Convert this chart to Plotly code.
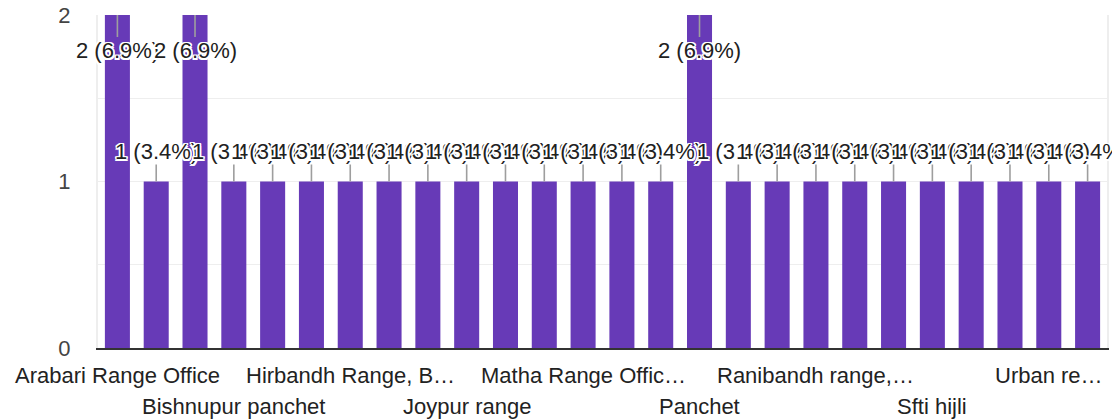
import plotly.graph_objects as go

# ---- data ----
categories = [
    "Arabari Range Office", "Bankura range", "Barjora range", "Bishnupur panchet",
    "Bishnupur range", "Durgapur range", "Hirbandh Range, Bankura", "Jhargram range",
    "Jhilimili range", "Joypur range", "Khatra range", "Kotulpur range",
    "Matha Range Office", "Medinipur range", "Onda range", "Panchet",
    "Patrasayer range", "Purulia range", "Ranibandh range, Bankura", "Saltora range",
    "Sarenga range", "Sfti hijli", "Simlapal range", "Sonamukhi range",
    "Urban range", "Vishnupur",
]
counts = [2, 1, 2, 1, 1, 1, 1, 1, 1, 1, 1, 1, 1, 1, 1, 2,
          1, 1, 1, 1, 1, 1, 1, 1, 1, 1]
tick_labels = ["Arabari Range Office", "Bishnupur panchet", "Hirbandh Range, B…",
               "Joypur range", "Matha Range Offic…", "Panchet", "Ranibandh range,…",
               "Sfti hijli", "Urban re…"]
tick_every = 3
y_tickvals = [0, 0.5, 1, 1.5, 2]
y_ticktext = ["0", "", "1", "", "2"]

total = sum(counts)
ymax = max(counts)

FONT = "Liberation Sans, Arial, sans-serif"
BAR = "#673AB7"
halo = ("1.5px 1.5px 0 #fff, -1.5px -1.5px 0 #fff, 1.5px -1.5px 0 #fff, -1.5px 1.5px 0 #fff, "
        "0 1.5px 0 #fff, 0 -1.5px 0 #fff, 1.5px 0 0 #fff, -1.5px 0 0 #fff")

fig = go.Figure()
fig.add_trace(go.Bar(
    x=categories, y=counts, marker=dict(color=BAR, line=dict(width=0)),
    hovertemplate="%{x}: %{y}<extra></extra>",
))

annotations = []
for cat, c in zip(categories, counts):
    pct = c / total * 100
    inside = c >= ymax
    annotations.append(dict(
        x=cat, y=c, xref="x", yref="y",
        text=f"{c} ({pct:.1f}%)",
        showarrow=True, arrowhead=0, arrowwidth=1.6, arrowcolor="#9e9e9e",
        ax=0, ay=35 if inside else -30,
        font=dict(family=FONT, size=22, color="#212121", shadow=halo),
        borderpad=0,
    ))

for i, lab in enumerate(tick_labels):
    idx = i * tick_every
    row = i % 2
    annotations.append(dict(
        x=categories[idx], y=0, xref="x", yref="paper",
        text=lab, showarrow=False, xanchor="center", yanchor="middle",
        yshift=-27 if row == 0 else -58,
        font=dict(family=FONT, size=22, color="#222222"),
    ))

fig.update_layout(
    width=1112, height=420,
    margin=dict(l=98, r=5, t=15, b=72, autoexpand=False),
    plot_bgcolor="white", paper_bgcolor="white",
    bargap=0.355, showlegend=False,
    font=dict(family=FONT, size=22, color="#444444"),
    annotations=annotations,
    xaxis=dict(
        type="category", showticklabels=False, showgrid=False, zeroline=False,
        showline=True, linecolor="#333333", linewidth=2,
        range=[-0.5, len(categories) - 0.5], fixedrange=True,
    ),
    yaxis=dict(
        range=[0, ymax], tickvals=y_tickvals, ticktext=y_ticktext,
        showgrid=True, gridcolor="#eeeeee", gridwidth=1.3, zeroline=False,
        showline=True, linecolor="#eeeeee", linewidth=2, mirror=True,
        tickfont=dict(family=FONT, size=22, color="#444444"),
        ticks="", ticklabelstandoff=21, fixedrange=True,
    ),
)

fig.write_html("out.html", config={"displayModeBar": False},
               post_script="document.body.style.margin='0';")
